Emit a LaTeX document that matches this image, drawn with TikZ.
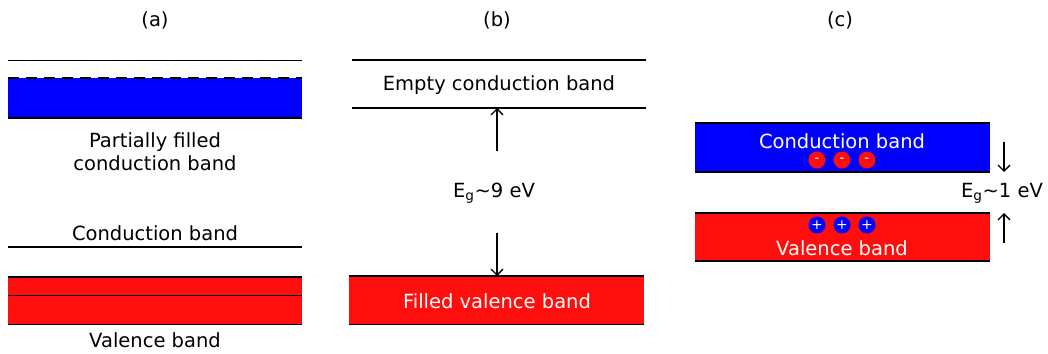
\documentclass[tikz,border=0pt]{standalone}
\usepackage{fontspec}
\setmainfont{DejaVu Sans}
\usetikzlibrary{arrows.meta}
\definecolor{bandred}{RGB}{255,14,14}
\definecolor{bandblue}{RGB}{0,0,255}
\tikzset{
  lbl/.style={anchor=base, inner sep=0pt, font=\fontsize{19.5}{23}\selectfont},
  wlbl/.style={lbl, text=white},
  edge/.style={line width=1.8pt, black},
  gaparrow/.style={line width=1.3pt, -{Straight Barb[length=6pt,width=12pt,line width=1.3pt]}},
  carrier/.style={circle, minimum size=17pt, inner sep=0pt, text=white, font=\fontsize{14}{14}\selectfont},
}
\begin{document}
\begin{tikzpicture}[x=1pt,y=-1pt]
\useasboundingbox (0,0) rectangle (1048,353);
% titles
\node[lbl] (ta) at (155,27) {(a)};
\node[lbl] (tb) at (497,27) {(b)};
\node[lbl] (tc) at (840,27) {(c)};

% ---------------- (a) ----------------
\draw[edge] (8,60.5) -- (302,60.5);
\fill[bandblue] (8,78) rectangle (302,118);
\draw[edge, dash pattern=on 11pt off 7pt] (8,78) -- (302,78);
\draw[edge] (8,118) -- (302,118);
\node[lbl] (pf1) at (155,147) {Partially filled};
\node[lbl] (pf2) at (155,170) {conduction band};
\node[lbl] (cba) at (155,240) {Conduction band};
\draw[edge] (8,247) -- (302,247);
\fill[bandred] (8,277) rectangle (302,324.5);
\draw[edge] (8,277) -- (302,277);
\draw[edge] (8,295.5) -- (302,295.5);
\draw[edge] (8,324.5) -- (302,324.5);
\node[lbl] (vba) at (155,347) {Valence band};

% ---------------- (b) ----------------
\draw[edge] (352,60) -- (646,60);
\node[lbl] (ecb) at (499,90) {Empty conduction band};
\draw[edge] (352,108) -- (646,108);
\coordinate (ebtop) at (497,108);
\coordinate (ebup) at (497,151);
\node[lbl] (egb) at (494,197) {E\textsubscript{g}\textasciitilde9 eV};
\coordinate (ebdn) at (497,233);
\coordinate (ebbot) at (497,276);
\draw[gaparrow] (ebup) -- (ebtop);
\draw[gaparrow] (ebdn) -- (ebbot);
\fill[bandred] (349,276) rectangle (644,324.5);
\draw[edge] (349,276) -- (644,276);
\draw[edge] (349,324.5) -- (644,324.5);
\node[wlbl] (fvb) at (497,308) {Filled valence band};

% ---------------- (c) ----------------
\fill[bandblue] (695,123) rectangle (990,172);
\draw[edge] (695,123) -- (990,123);
\draw[edge] (695,172) -- (990,172);
\node[wlbl] (cbc) at (842,148) {Conduction band};
\node[carrier, fill=bandred] (e1) at (817,160) {-};
\node[carrier, fill=bandred] (e2) at (842,160) {-};
\node[carrier, fill=bandred] (e3) at (867,160) {-};

\fill[bandred] (695,213) rectangle (990,261);
\draw[edge] (695,213) -- (990,213);
\draw[edge] (695,261) -- (990,261);
\node[carrier, fill=bandblue] (h1) at (817,225) {+};
\node[carrier, fill=bandblue] (h2) at (842,225) {+};
\node[carrier, fill=bandblue] (h3) at (867,225) {+};
\node[wlbl] (vbc) at (842,255) {Valence band};

\coordinate (ecdn) at (1004,142);
\coordinate (ecbot) at (1004,172);
\coordinate (ecup) at (1004,243);
\coordinate (ectop) at (1004,213);
\draw[gaparrow] (ecdn) -- (ecbot);
\draw[gaparrow] (ecup) -- (ectop);
\node[lbl] (egc) at (1002,197) {E\textsubscript{g}\textasciitilde1 eV};
\end{tikzpicture}
\end{document}
